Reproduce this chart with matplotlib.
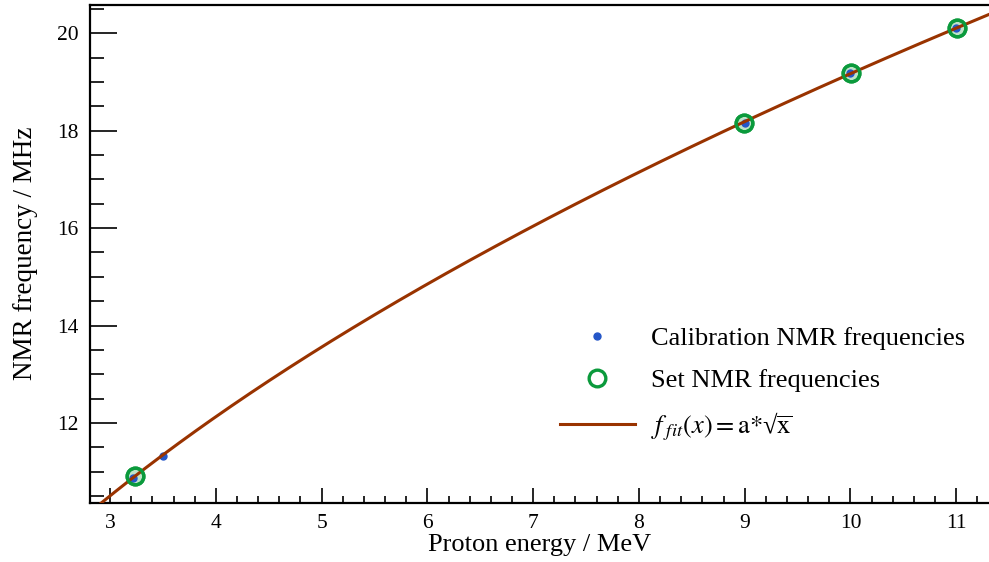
import numpy as np
import matplotlib
matplotlib.use("Agg")
import matplotlib.pyplot as plt
from matplotlib.ticker import MultipleLocator

plt.rcParams['font.family'] = ['Liberation Serif', 'DejaVu Serif']
plt.rcParams['mathtext.fontset'] = 'stix'

# Data
calib_energy = [3.22, 3.50, 9.00, 10.00, 11.00]
calib_freq = [10.86, 11.32, 18.17, 19.18, 20.12]
set_energy = [3.236, 8.99, 10.007, 11.005]
set_freq = [10.905, 18.17, 19.18, 20.12]
fit_a = 6.063
x_limits = (2.81, 11.31)
y_limits = (10.36, 20.59)

W, H = 989, 562
fig = plt.figure(figsize=(W / 100, H / 100), dpi=100)
ax = fig.add_axes([90 / W, (H - 502.7) / H, (W - 90) / W, (502.7 - 4.7) / H])

xf = np.linspace(2.5, 11.5, 400)
yf = fit_a * np.sqrt(xf)

ax.plot(set_energy, set_freq, linestyle='none', marker='o', markersize=12,
        markerfacecolor='#bfe3c8', markeredgecolor='#0b9a3c', markeredgewidth=2.4,
        zorder=2)
ax.plot(calib_energy, calib_freq, linestyle='none', marker='o', markersize=5,
        markerfacecolor='#2456c8', markeredgecolor='#2456c8', zorder=3)
ax.plot(xf, yf, color='#993300', linewidth=2.2, zorder=4)
ax.plot(set_energy, set_freq, linestyle='none', marker='o', markersize=12,
        markerfacecolor='none', markeredgecolor='#0b9a3c', markeredgewidth=2.4,
        zorder=5)

fit_label = r'$f_{\;fit}(x) = \mathrm{a}{*}$' + '\u221a' + r'$\overline{\mathrm{x}}$'

# legend proxies
h1, = ax.plot([], [], linestyle='none', marker='o', markersize=5,
              markerfacecolor='#2456c8', markeredgecolor='#2456c8')
h2, = ax.plot([], [], linestyle='none', marker='o', markersize=12,
              markerfacecolor='none', markeredgecolor='#0b9a3c', markeredgewidth=2.4)
h3, = ax.plot([], [], color='#993300', linewidth=2.2)
leg = ax.legend([h1, h2, h3],
                ['Calibration NMR frequencies', 'Set NMR frequencies', fit_label],
                frameon=False, fontsize=19, handlelength=2.85, handletextpad=0.6,
                labelspacing=0.7, loc='upper left',
                bbox_to_anchor=((549 - 90) / (W - 90), 1 - (316 - 4.7) / (502.7 - 4.7)),
                bbox_transform=ax.transAxes, borderaxespad=0)

ax.set_xlim(*x_limits)
ax.set_ylim(*y_limits)
ax.xaxis.set_major_locator(MultipleLocator(1))
ax.xaxis.set_minor_locator(MultipleLocator(0.2))
ax.yaxis.set_major_locator(MultipleLocator(2))
ax.yaxis.set_minor_locator(MultipleLocator(0.5))

ax.tick_params(axis='x', which='major', direction='in', length=10.8, width=1.2,
               labelsize=15.5, pad=8, top=False)
ax.tick_params(axis='x', which='minor', direction='in', length=5, width=1.2, top=False)
ax.tick_params(axis='y', which='major', direction='in', length=19.4, width=1.2,
               labelsize=15.5, pad=8, right=False)
ax.tick_params(axis='y', which='minor', direction='in', length=10, width=1.2, right=False)

for s in ['left', 'bottom', 'top']:
    ax.spines[s].set_linewidth(1.6)
ax.spines['right'].set_visible(False)

ax.set_xlabel('Proton energy / MeV', fontsize=19, labelpad=1)
ax.set_ylabel('NMR frequency / MHz', fontsize=19.5, labelpad=14)

fig.savefig('out.png', dpi=100)
